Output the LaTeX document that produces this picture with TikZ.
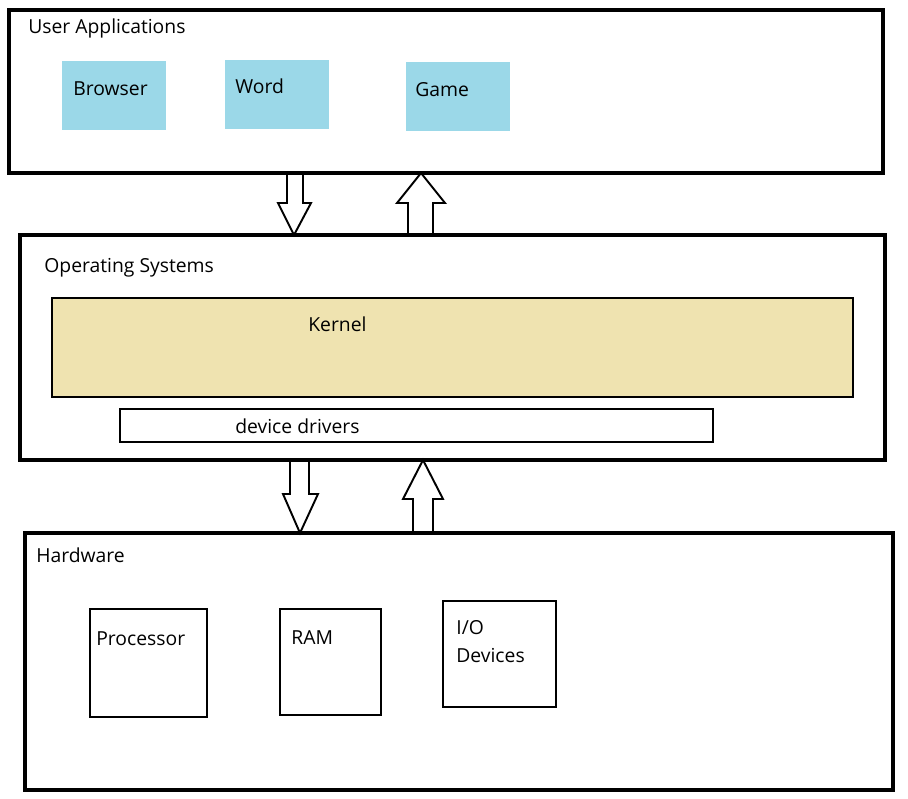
\documentclass[tikz,border=0pt]{standalone}
\usepackage{fontspec}
\setmainfont{Open Sans}
\usetikzlibrary{fit}
\definecolor{appblue}{RGB}{155,216,232}
\definecolor{kernelbg}{RGB}{239,227,176}
\tikzset{
	layer/.style={draw, line width=2.5pt, inner sep=0pt, outer sep=0pt},
	appbox/.style={fill=appblue, inner sep=0pt, outer sep=0pt},
	part/.style={draw, line width=1.5pt, inner sep=0pt, outer sep=0pt},
	txt/.style={anchor=base west, inner sep=0pt, font=\fontsize{11}{13}\selectfont},
	blockarr/.style={draw, line width=1.1pt, line join=miter}
}

\begin{document}
\begin{tikzpicture}[x=0.02cm,y=-0.02cm]
			\useasboundingbox (0,0) rectangle (908,798);
			% layers
			\node[layer, fit={(9,10) (883,173)}] (apps) {};
			\node[layer, fit={(20,235) (885,460)}] (os) {};
			\node[layer, fit={(25,533) (893,790)}] (hw) {};
			\node[txt] (appstitle) at (28,33) {User Applications};
			\node[txt] (ostitle) at (44,272) {Operating Systems};
			\node[txt] (hwtitle) at (36,562) {Hardware};
			% applications
			\node[appbox, fit={(62,61) (166,130)}] (browser) {};
			\node[appbox, fit={(225,60) (329,129)}] (word) {};
			\node[appbox, fit={(406,62) (510,131)}] (game) {};
			\node[txt] (browsertxt) at (73,95) {Browser};
			\node[txt] (wordtxt) at (235,93) {Word};
			\node[txt] (gametxt) at (415,96) {Game};
			% kernel and drivers
			\node[part, fill=kernelbg, fit={(52,298) (853,397)}] (kernel) {};
			\node[part, fit={(120,409) (713,442)}] (drivers) {};
			\node[txt] (kerneltxt) at (308,331) {Kernel};
			\node[txt] (driverstxt) at (235,433) {device drivers};
			% hardware parts
			\node[part, fit={(90,609) (207,717)}] (cpu) {};
			\node[part, fit={(280,609) (381,715)}] (ram) {};
			\node[part, fit={(443,601) (556,707)}] (io) {};
			\node[txt] (cputxt) at (96,645) {Processor};
			\node[txt] (ramtxt) at (291,644) {RAM};
			\node[txt] (iotxt) at (456,634) {I/O};
			\node[txt] (devtxt) at (456,662) {Devices};
			% arrows between layers
			\draw[blockarr] (287,0 |- apps.south) -- (287,203) -- (278,203) -- (294,0 |- os.north) -- (311,203) -- (303,203) -- (303,0 |- apps.south);
			\draw[blockarr] (408,0 |- os.north) -- (408,203) -- (397,203) -- (421,0 |- apps.south) -- (445,203) -- (433,203) -- (433,0 |- os.north);
			\draw[blockarr] (290,0 |- os.south) -- (290,494) -- (283,494) -- (300,0 |- hw.north) -- (318,494) -- (309,494) -- (309,0 |- os.south);
			\draw[blockarr] (413,0 |- hw.north) -- (413,499) -- (403,499) -- (423,0 |- os.south) -- (443,499) -- (433,499) -- (433,0 |- hw.north);
		\end{tikzpicture}
\end{document}
